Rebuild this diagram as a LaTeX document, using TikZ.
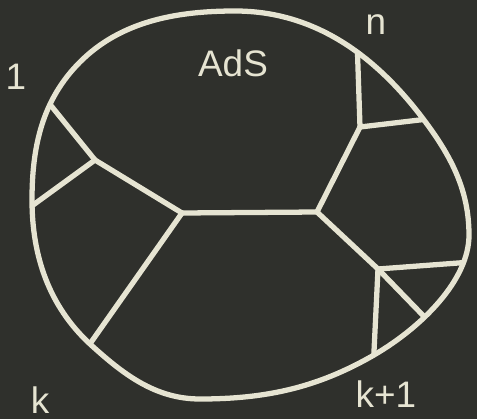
\documentclass[tikz,border=0pt]{standalone}
\usepackage{fontspec}
\setsansfont{Liberation Sans}
\definecolor{board}{HTML}{2F302C}
\definecolor{chalkcol}{HTML}{E6E4D2}

\begin{document}
\begin{tikzpicture}[x=0.02cm, y=-0.02cm,
  chalk/.style={draw=chalkcol, line width=3pt, line cap=round, line join=round},
  leglabel/.style={text=chalkcol, font=\sffamily\fontsize{21}{21}\selectfont, inner sep=0pt}
]
\fill[board] (0,0) rectangle (477,419);
\useasboundingbox (0,0) rectangle (477,419);

% the AdS boundary
\def\bdry{(235,11) .. controls (315,11) and (376,56) .. (424,120)
  .. controls (451,156) and (469,190) .. (469,235)
  .. controls (469,280) and (422,327) .. (374,355)
  .. controls (317,388) and (265,399) .. (200,399)
  .. controls (155,399) and (123,374) .. (90,344)
  .. controls (49,306) and (32,256) .. (32,200)
  .. controls (32,147) and (42,100) .. (80,62)
  .. controls (121,21) and (177,11) .. cycle}

% bulk vertices
\coordinate (va) at (95,160);
\coordinate (vb) at (182,213);
\coordinate (vc) at (317,212);
\coordinate (vd) at (360,127);
\coordinate (ve) at (378,269);

% leg ends, just past the boundary
\coordinate (b1) at (40,92);
\coordinate (blow) at (18,216);
\coordinate (bk) at (80,358);
\coordinate (bn) at (357,38);
\coordinate (bnr) at (445,117);
\coordinate (bright) at (485,261);
\coordinate (bdiag) at (442,335);
\coordinate (bk1) at (373,372);

\begin{scope}
\clip \bdry;
\draw[chalk] (b1) -- (va);
\draw[chalk] (blow) -- (va);
\draw[chalk] (va) -- (vb);
\draw[chalk] (vb) -- (bk);
\draw[chalk] (vb) -- (vc);
\draw[chalk] (vc) -- (vd);
\draw[chalk] (vd) -- (bn);
\draw[chalk] (vd) -- (bnr);
\draw[chalk] (vc) -- (ve);
\draw[chalk] (ve) -- (bright);
\draw[chalk] (ve) -- (bdiag);
\draw[chalk] (ve) -- (bk1);
\end{scope}

\draw[chalk] \bdry;

\node[leglabel] (lab1) at (16,77) {1};
\node[leglabel] (labads) at (233,63) {AdS};
\node[leglabel] (labn) at (376,25) {n};
\node[leglabel] (labk) at (40,400) {k};
\node[leglabel] (labk1) at (386,394) {k+1};
\end{tikzpicture}
\end{document}
